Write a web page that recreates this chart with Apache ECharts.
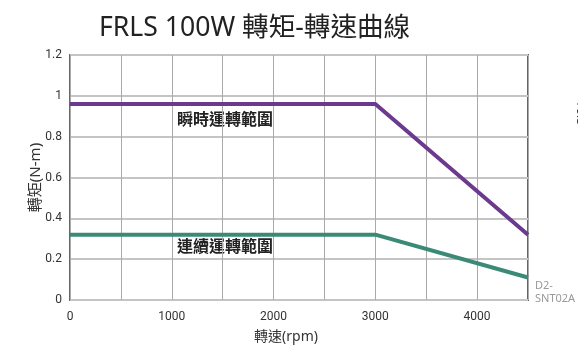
<!DOCTYPE html>
<html>
<head>
<meta charset="utf-8">
<script src="https://cdn.jsdelivr.net/npm/echarts@6/dist/echarts.min.js"></script>
<style>
  html, body { margin: 0; padding: 0; background: #fff; }
  #chart { width: 578px; height: 352px; }
</style>
</head>
<body>
<div id="chart"></div>
<script>
// 轉速 (rpm) breakpoints
const speeds = [0, 3000, 4500];
// 瞬時運轉範圍 torque (N-m)
const peakTorque = [0.96, 0.96, 0.32];
// 連續運轉範圍 torque (N-m)
const contTorque = [0.32, 0.32, 0.11];
const xTicks = [0, 1000, 2000, 3000, 4000];

const cjk = '"Noto Sans", "Noto Sans CJK TC", sans-serif';

const chart = echarts.init(document.getElementById("chart"));

const option = {
  animation: false,
  title: {
    text: "FRLS 100W 轉矩-轉速曲線",
    left: 94,
    top: 10,
    textStyle: {
      fontFamily: cjk,
      fontSize: 26.6,
      fontWeight: "normal",
      color: "#222",
    },
  },
  grid: {
    left: 70,
    right: 50,
    top: 55,
    bottom: 52,
    show: true,
    borderColor: "#666",
    borderWidth: 2,
  },
  xAxis: {
    type: "value",
    min: 0,
    max: 4500,
    interval: 500,
    name: "轉速(rpm)",
    nameLocation: "middle",
    nameGap: 30,
    nameTextStyle: {
      fontFamily: cjk,
      fontSize: 14,
      color: "#333",
      padding: [0, 26, 0, 0],
    },
    axisLine: { show: false },
    axisTick: { show: false },
    axisLabel: {
      margin: 11,
      fontFamily: "Roboto",
      fontSize: 12,
      color: "#333",
      formatter: (v) => (xTicks.includes(v) ? String(v) : ""),
    },
    splitLine: { lineStyle: { color: "#aaa", width: 1 } },
  },
  yAxis: {
    type: "value",
    min: 0,
    max: 1.2,
    interval: 0.2,
    name: "轉矩(N-m)",
    nameLocation: "middle",
    nameGap: 27,
    nameMoveOverlap: false,
    nameTextStyle: { fontFamily: cjk, fontSize: 15, color: "#333" },
    axisLine: { show: false },
    axisTick: { show: false },
    axisLabel: {
      margin: 8,
      fontFamily: "Roboto",
      fontSize: 12,
      color: "#333",
    },
    splitLine: { lineStyle: { color: "#c4c4c4", width: 2 } },
  },
  series: [
    {
      name: "瞬時運轉範圍",
      type: "line",
      data: speeds.map((s, i) => [s, peakTorque[i]]),
      showSymbol: false,
      lineStyle: { color: "#6b3a8e", width: 4 },
    },
    {
      name: "連續運轉範圍",
      type: "line",
      data: speeds.map((s, i) => [s, contTorque[i]]),
      showSymbol: false,
      lineStyle: { color: "#3b8a78", width: 4 },
    },
  ],
  graphic: [
    {
      type: "text",
      left: 177,
      top: 111,
      style: {
        text: "瞬時運轉範圍",
        font: 'bold 16px "Noto Sans CJK TC"',
        fill: "#222",
      },
    },
    {
      type: "text",
      left: 177,
      top: 238,
      style: {
        text: "連續運轉範圍",
        font: 'bold 16px "Noto Sans CJK TC"',
        fill: "#222",
      },
    },
    {
      type: "text",
      left: 535,
      top: 279,
      style: {
        text: "D2-\nSNT02A",
        font: '11px "Noto Sans"',
        lineHeight: 13,
        fill: "#999",
      },
    },
    {
      type: "text",
      x: 587,
      y: 100,
      rotation: -Math.PI / 2,
      style: {
        text: "10.5",
        font: '13px "Noto Sans"',
        fill: "#333",
      },
    },
  ],
};

chart.setOption(option);
</script>
</body>
</html>
